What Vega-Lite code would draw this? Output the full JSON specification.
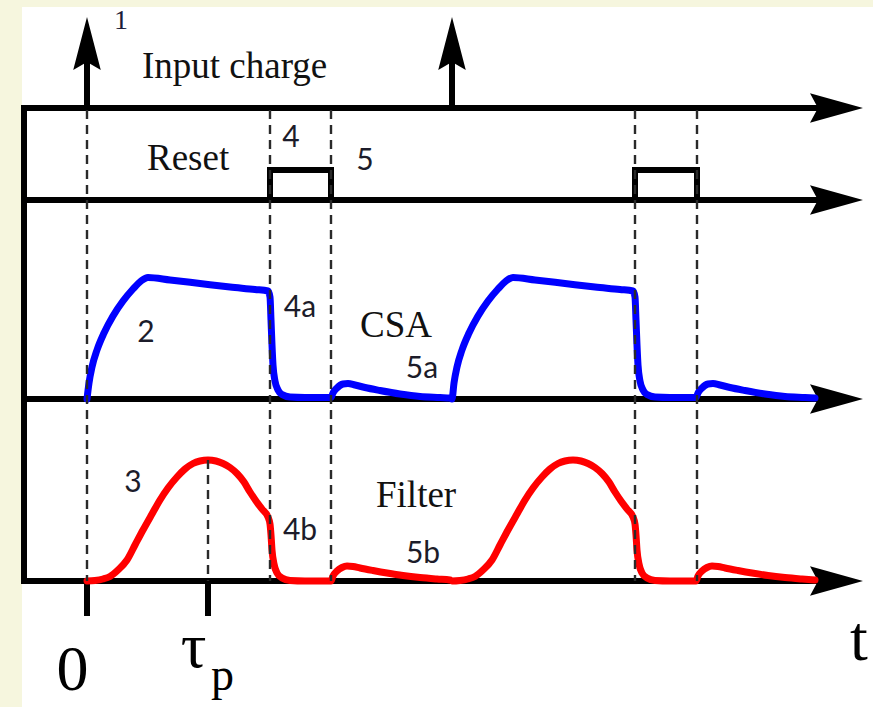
{
  "$schema": "https://vega.github.io/schema/vega-lite/v6.json",
  "width": 873,
  "height": 707,
  "autosize": {"type": "fit", "contains": "padding"},
  "padding": 0,
  "background": "#f6f6de",
  "config": {"view": {"stroke": null}},
  "datasets": {
    "panel": [{"x": 22, "x2": 873, "y": 7, "y2": 707}],
    "solid": [
      {"x": 24, "y": 108, "x2": 825, "y2": 108},
      {"x": 24, "y": 200, "x2": 825, "y2": 200},
      {"x": 24, "y": 399, "x2": 825, "y2": 399},
      {"x": 24, "y": 581, "x2": 825, "y2": 581},
      {"x": 24, "y": 108, "x2": 24, "y2": 581},
      {"x": 270, "y": 200, "x2": 270, "y2": 170},
      {"x": 270, "y": 170, "x2": 331, "y2": 170},
      {"x": 331, "y": 170, "x2": 331, "y2": 200},
      {"x": 635, "y": 200, "x2": 635, "y2": 170},
      {"x": 635, "y": 170, "x2": 697, "y2": 170},
      {"x": 697, "y": 170, "x2": 697, "y2": 200},
      {"x": 87, "y": 108, "x2": 87, "y2": 58},
      {"x": 452, "y": 108, "x2": 452, "y2": 58},
      {"x": 87, "y": 581, "x2": 87, "y2": 613},
      {"x": 208, "y": 581, "x2": 208, "y2": 613}
    ],
    "dashed": [
      {"x": 87, "y": 110, "x2": 87, "y2": 581},
      {"x": 208, "y": 460, "x2": 208, "y2": 581},
      {"x": 270, "y": 110, "x2": 270, "y2": 581},
      {"x": 331, "y": 110, "x2": 331, "y2": 581},
      {"x": 635, "y": 110, "x2": 635, "y2": 581},
      {"x": 697, "y": 110, "x2": 697, "y2": 581}
    ],
    "rightArrows": [
      {"x": 836.5, "y": 108},
      {"x": 836.5, "y": 200},
      {"x": 836.5, "y": 399},
      {"x": 836.5, "y": 581}
    ],
    "upArrows": [
      {"x": 87, "y": 43.5},
      {"x": 452, "y": 43.5}
    ],
    "csa": [
      {"x": 87, "y": 399}, {"x": 89, "y": 383}, {"x": 92, "y": 367}, {"x": 97, "y": 350},
      {"x": 104, "y": 333}, {"x": 113, "y": 316}, {"x": 123, "y": 301}, {"x": 133, "y": 289},
      {"x": 141, "y": 281}, {"x": 148, "y": 277.5}, {"x": 170, "y": 280}, {"x": 200, "y": 283.5},
      {"x": 230, "y": 287}, {"x": 255, "y": 289.5}, {"x": 268, "y": 291}, {"x": 270, "y": 297},
      {"x": 271, "y": 320}, {"x": 272, "y": 345}, {"x": 273, "y": 365}, {"x": 275, "y": 381},
      {"x": 278, "y": 390}, {"x": 282, "y": 394.5}, {"x": 290, "y": 397}, {"x": 305, "y": 397.5},
      {"x": 331, "y": 397.5}, {"x": 333, "y": 393}, {"x": 337, "y": 388}, {"x": 343, "y": 384},
      {"x": 348, "y": 383.5}, {"x": 355, "y": 385}, {"x": 365, "y": 387.5}, {"x": 380, "y": 390.5},
      {"x": 400, "y": 394}, {"x": 420, "y": 396.5}, {"x": 440, "y": 397.5}, {"x": 450, "y": 398},
      {"x": 452, "y": 399}, {"x": 454, "y": 383}, {"x": 457, "y": 367}, {"x": 462, "y": 350},
      {"x": 469, "y": 333}, {"x": 478, "y": 316}, {"x": 488, "y": 301}, {"x": 498, "y": 289},
      {"x": 506, "y": 281}, {"x": 513, "y": 277.5}, {"x": 535, "y": 280}, {"x": 565, "y": 283.5},
      {"x": 595, "y": 287}, {"x": 620, "y": 289.5}, {"x": 633, "y": 291}, {"x": 635, "y": 297},
      {"x": 636, "y": 320}, {"x": 637, "y": 345}, {"x": 638, "y": 365}, {"x": 640, "y": 381},
      {"x": 643, "y": 390}, {"x": 647, "y": 394.5}, {"x": 655, "y": 397}, {"x": 670, "y": 397.5},
      {"x": 696, "y": 397.5}, {"x": 698, "y": 393}, {"x": 702, "y": 388}, {"x": 708, "y": 384},
      {"x": 713, "y": 383.5}, {"x": 720, "y": 385}, {"x": 730, "y": 387.5}, {"x": 745, "y": 390.5},
      {"x": 765, "y": 394}, {"x": 785, "y": 396.5}, {"x": 805, "y": 397.5}, {"x": 815, "y": 398}
    ],
    "filter": [
      {"x": 87, "y": 581}, {"x": 95, "y": 580.5}, {"x": 103, "y": 579}, {"x": 110, "y": 576.5},
      {"x": 118, "y": 570}, {"x": 127, "y": 560}, {"x": 135, "y": 545}, {"x": 143, "y": 530},
      {"x": 152, "y": 514}, {"x": 160, "y": 500}, {"x": 168, "y": 488}, {"x": 177, "y": 477},
      {"x": 185, "y": 469}, {"x": 193, "y": 463.5}, {"x": 200, "y": 461}, {"x": 208, "y": 460},
      {"x": 216, "y": 461}, {"x": 223, "y": 463.5}, {"x": 230, "y": 467.5}, {"x": 237, "y": 473.5},
      {"x": 244, "y": 482}, {"x": 250, "y": 492}, {"x": 256, "y": 501}, {"x": 262, "y": 509},
      {"x": 268, "y": 517}, {"x": 270, "y": 524}, {"x": 271, "y": 535}, {"x": 272, "y": 550},
      {"x": 274, "y": 564}, {"x": 277, "y": 573}, {"x": 282, "y": 578}, {"x": 290, "y": 580.5},
      {"x": 305, "y": 581}, {"x": 331, "y": 581}, {"x": 333, "y": 576}, {"x": 337, "y": 571},
      {"x": 342, "y": 567.5}, {"x": 347, "y": 566}, {"x": 353, "y": 566.5}, {"x": 360, "y": 568},
      {"x": 373, "y": 570.5}, {"x": 387, "y": 573}, {"x": 403, "y": 575.5}, {"x": 420, "y": 577.5},
      {"x": 437, "y": 579}, {"x": 450, "y": 580},
      {"x": 452, "y": 581}, {"x": 460, "y": 580.5}, {"x": 468, "y": 579}, {"x": 475, "y": 576.5},
      {"x": 483, "y": 570}, {"x": 492, "y": 560}, {"x": 500, "y": 545}, {"x": 508, "y": 530},
      {"x": 517, "y": 514}, {"x": 525, "y": 500}, {"x": 533, "y": 488}, {"x": 542, "y": 477},
      {"x": 550, "y": 469}, {"x": 558, "y": 463.5}, {"x": 565, "y": 461}, {"x": 573, "y": 460},
      {"x": 581, "y": 461}, {"x": 588, "y": 463.5}, {"x": 595, "y": 467.5}, {"x": 602, "y": 473.5},
      {"x": 609, "y": 482}, {"x": 615, "y": 492}, {"x": 621, "y": 501}, {"x": 627, "y": 509},
      {"x": 633, "y": 517}, {"x": 635, "y": 524}, {"x": 636, "y": 535}, {"x": 637, "y": 550},
      {"x": 639, "y": 564}, {"x": 642, "y": 573}, {"x": 647, "y": 578}, {"x": 655, "y": 580.5},
      {"x": 670, "y": 581}, {"x": 696, "y": 581}, {"x": 698, "y": 576}, {"x": 702, "y": 571},
      {"x": 707, "y": 567.5}, {"x": 712, "y": 566}, {"x": 718, "y": 566.5}, {"x": 725, "y": 568},
      {"x": 738, "y": 570.5}, {"x": 752, "y": 573}, {"x": 768, "y": 575.5}, {"x": 785, "y": 577.5},
      {"x": 802, "y": 579}, {"x": 815, "y": 580}
    ],
    "labels": [
      {"g": "serif", "x": 142, "y": 78, "text": "Input charge"},
      {"g": "serif", "x": 147, "y": 170, "text": "Reset"},
      {"g": "serif", "x": 360, "y": 337, "text": "CSA"},
      {"g": "serif", "x": 376, "y": 507, "text": "Filter"},
      {"g": "num", "x": 291, "y": 147, "text": "4"},
      {"g": "num", "x": 365, "y": 170, "text": "5"},
      {"g": "num", "x": 300, "y": 317, "text": "4a"},
      {"g": "num", "x": 146, "y": 342, "text": "2"},
      {"g": "num", "x": 422, "y": 378, "text": "5a"},
      {"g": "num", "x": 133, "y": 492, "text": "3"},
      {"g": "num", "x": 300, "y": 540, "text": "4b"},
      {"g": "num", "x": 423, "y": 563, "text": "5b"},
      {"g": "one", "x": 121, "y": 29, "text": "1"},
      {"g": "big", "x": 72.5, "y": 690, "text": "0"},
      {"g": "big", "x": 193.5, "y": 667, "text": "τ"},
      {"g": "big", "x": 859, "y": 660, "text": "t"},
      {"g": "sub", "x": 222.5, "y": 690, "text": "p"}
    ]
  },
  "encoding": {
    "x": {"field": "x", "type": "quantitative", "axis": null,
          "scale": {"domain": [0, 873], "nice": false, "zero": false}},
    "y": {"field": "y", "type": "quantitative", "axis": null,
          "scale": {"domain": [0, 707], "nice": false, "zero": false, "reverse": true}}
  },
  "layer": [
    {
      "data": {"name": "panel"},
      "mark": {"type": "rect", "fill": "#ffffff"},
      "encoding": {"x2": {"field": "x2"}, "y2": {"field": "y2"}}
    },
    {
      "data": {"name": "solid"},
      "mark": {"type": "rule", "color": "#000000", "strokeWidth": 6, "strokeCap": "square"},
      "encoding": {"x2": {"field": "x2"}, "y2": {"field": "y2"}}
    },
    {
      "data": {"name": "rightArrows"},
      "mark": {"type": "point", "shape": "M1,0L-1,-0.56L-0.7,0L-1,0.56Z", "size": 2809,
               "filled": true, "fill": "#000000", "stroke": null, "opacity": 1}
    },
    {
      "data": {"name": "upArrows"},
      "mark": {"type": "point", "shape": "M0,-1L-0.52,1L0,0.7L0.52,1Z", "size": 2809,
               "filled": true, "fill": "#000000", "stroke": null, "opacity": 1}
    },
    {
      "data": {"name": "csa"},
      "mark": {"type": "line", "color": "#0000ff", "strokeWidth": 7, "interpolate": "monotone",
               "strokeJoin": "round", "strokeCap": "round"}
    },
    {
      "data": {"name": "filter"},
      "mark": {"type": "line", "color": "#ff0000", "strokeWidth": 7, "interpolate": "monotone",
               "strokeJoin": "round", "strokeCap": "round"}
    },
    {
      "data": {"name": "dashed"},
      "mark": {"type": "rule", "color": "#2a2a2a", "strokeWidth": 2.4, "strokeDash": [9, 6]},
      "encoding": {"x2": {"field": "x2"}, "y2": {"field": "y2"}}
    },
    {
      "data": {"name": "labels"},
      "transform": [{"filter": "datum.g === 'serif'"}],
      "mark": {"type": "text", "font": "Liberation Serif", "fontSize": 37, "align": "left",
               "baseline": "alphabetic", "color": "#111111"},
      "encoding": {"text": {"field": "text"}}
    },
    {
      "data": {"name": "labels"},
      "transform": [{"filter": "datum.g === 'num'"}],
      "mark": {"type": "text", "font": "Lato", "fontSize": 30, "align": "center",
               "baseline": "alphabetic", "color": "#1c1c2a"},
      "encoding": {"text": {"field": "text"}}
    },
    {
      "data": {"name": "labels"},
      "transform": [{"filter": "datum.g === 'one'"}],
      "mark": {"type": "text", "font": "Liberation Serif", "fontSize": 28, "align": "center",
               "baseline": "alphabetic", "color": "#1c1c3a"},
      "encoding": {"text": {"field": "text"}}
    },
    {
      "data": {"name": "labels"},
      "transform": [{"filter": "datum.g === 'big'"}],
      "mark": {"type": "text", "font": "Liberation Serif", "fontSize": 64, "align": "center",
               "baseline": "alphabetic", "color": "#000000"},
      "encoding": {"text": {"field": "text"}}
    },
    {
      "data": {"name": "labels"},
      "transform": [{"filter": "datum.g === 'sub'"}],
      "mark": {"type": "text", "font": "Liberation Serif", "fontSize": 46, "align": "center",
               "baseline": "alphabetic", "color": "#000000"},
      "encoding": {"text": {"field": "text"}}
    }
  ]
}
